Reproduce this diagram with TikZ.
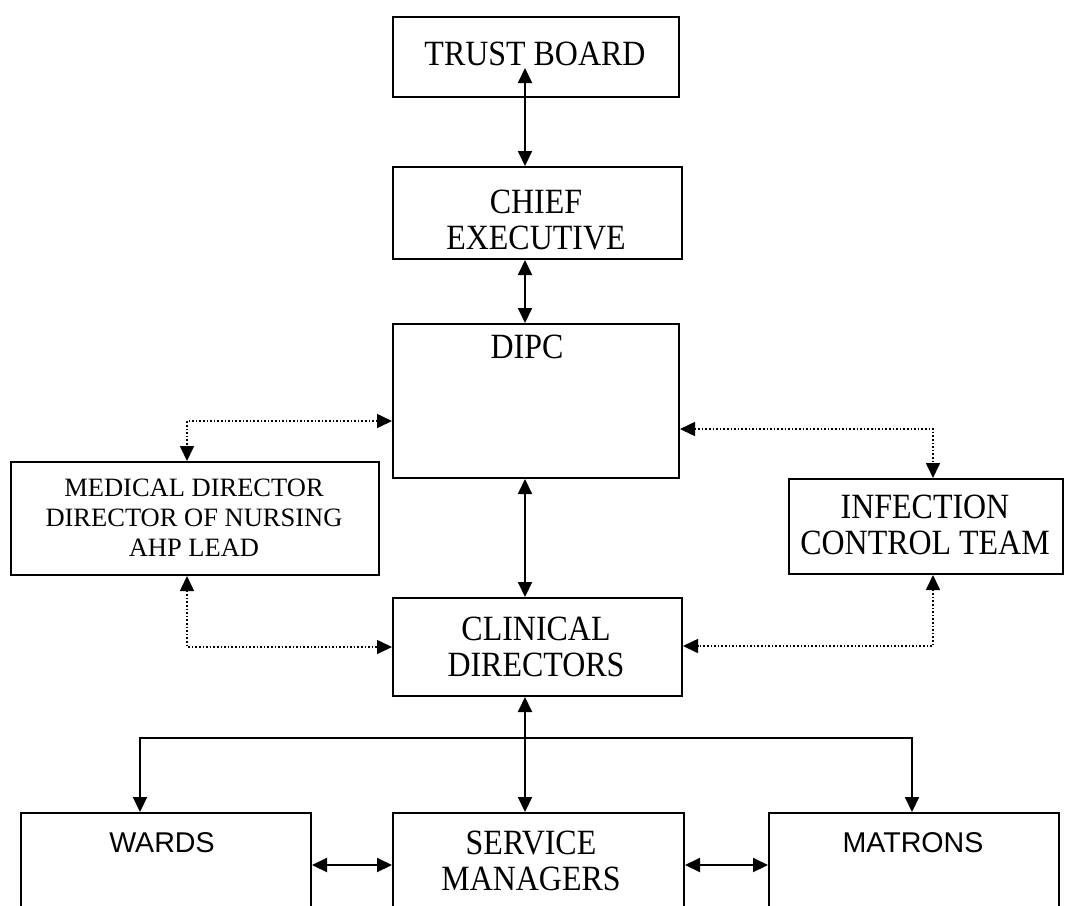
\documentclass[tikz,border=0pt]{standalone}
\usepackage{fontspec}
\setmainfont{Liberation Serif}
\newfontfamily\tallserif[FakeStretch=0.9]{Liberation Serif}
\newfontfamily\sansf{Liberation Sans}
\usetikzlibrary{arrows.meta}
\begin{document}
\begin{tikzpicture}[x=1pt,y=-1pt,
  box/.style={draw,line width=2pt,inner sep=0pt},
  lbl/.style={inner sep=0pt,align=center},
  big/.style={lbl,font=\tallserif\fontsize{35.5}{36}\selectfont},
  small/.style={lbl,font=\fontsize{26.5}{30}\selectfont},
  sans/.style={lbl,font=\sansf\fontsize{28.6}{32}\selectfont},
  solidarrow/.style={line width=2pt,{Triangle[length=15pt,width=14pt]}-{Triangle[length=15pt,width=14pt]}},
  singlearrow/.style={line width=2pt,-{Triangle[length=15pt,width=14pt]}},
  plainline/.style={line width=2pt},
  dotarrow/.style={line width=1.6pt,dotted,{Triangle[length=15pt,width=14pt]}-{Triangle[length=15pt,width=14pt]}}
]
\useasboundingbox (0,0) rectangle (1065,905);
\clip (0,0) rectangle (1065,905);
% boxes
\node[box,anchor=north west,minimum width=286pt,minimum height=80pt] (tb) at (392,16) {};
\node[box,anchor=north west,minimum width=289pt,minimum height=92pt] (ce) at (392,166) {};
\node[box,anchor=north west,minimum width=286pt,minimum height=154pt] (dipc) at (392,323) {};
\node[box,anchor=north west,minimum width=368pt,minimum height=113pt] (med) at (10,461) {};
\node[box,anchor=north west,minimum width=274pt,minimum height=95pt] (ict) at (788,478) {};
\node[box,anchor=north west,minimum width=289pt,minimum height=98pt] (cd) at (392,597) {};
\node[box,anchor=north west,minimum width=290pt,minimum height=140pt] (wards) at (20,812) {};
\node[box,anchor=north west,minimum width=291pt,minimum height=140pt] (sm) at (392,812) {};
\node[box,anchor=north west,minimum width=290pt,minimum height=140pt] (mat) at (768,812) {};
% texts
\node[big] (tbt) at (535,54) {TRUST BOARD};
\node[big] (cet) at (536,220) {CHIEF\\EXECUTIVE};
\node[big] (dipct) at (527,347) {DIPC};
\node[small] (medt) at (194,518) {MEDICAL DIRECTOR\\DIRECTOR OF NURSING\\AHP LEAD};
\node[big] (ictt) at (925,525) {INFECTION\\CONTROL TEAM};
\node[big] (cdt) at (536,647) {CLINICAL\\DIRECTORS};
\node[big] (smt) at (531,861) {SERVICE\\MANAGERS};
\node[sans] (wardst) at (162,843) {WARDS};
\node[sans] (matt) at (913,843) {MATRONS};
% solid connectors
\coordinate (tbin) at (525,68);
\draw[solidarrow] (tbin) -- (tbin |- ce.north);
\draw[solidarrow] (525,0 |- ce.south) -- (525,0 |- dipc.north);
\draw[solidarrow] (525,0 |- dipc.south) -- (525,0 |- cd.north);
\draw[solidarrow] (525,0 |- cd.south) -- (525,0 |- sm.north);
\draw[plainline] (140,738) -- (912,738);
\draw[singlearrow] (140,737) -- (140,0 |- wards.north);
\draw[singlearrow] (912,737) -- (912,0 |- mat.north);
\draw[solidarrow] (wards.east |- 0,865) -- (sm.west |- 0,865);
\draw[solidarrow] (sm.east |- 0,865) -- (mat.west |- 0,865);
% dotted connectors
\draw[dotarrow] (dipc.west |- 0,421) -| (187,0 |- med.north);
\draw[dotarrow] (187,0 |- med.south) |- (cd.west |- 0,647);
\draw[dotarrow] (dipc.east |- 0,429) -| (933,0 |- ict.north);
\draw[dotarrow] (933,0 |- ict.south) |- (cd.east |- 0,646);
\end{tikzpicture}
\end{document}
